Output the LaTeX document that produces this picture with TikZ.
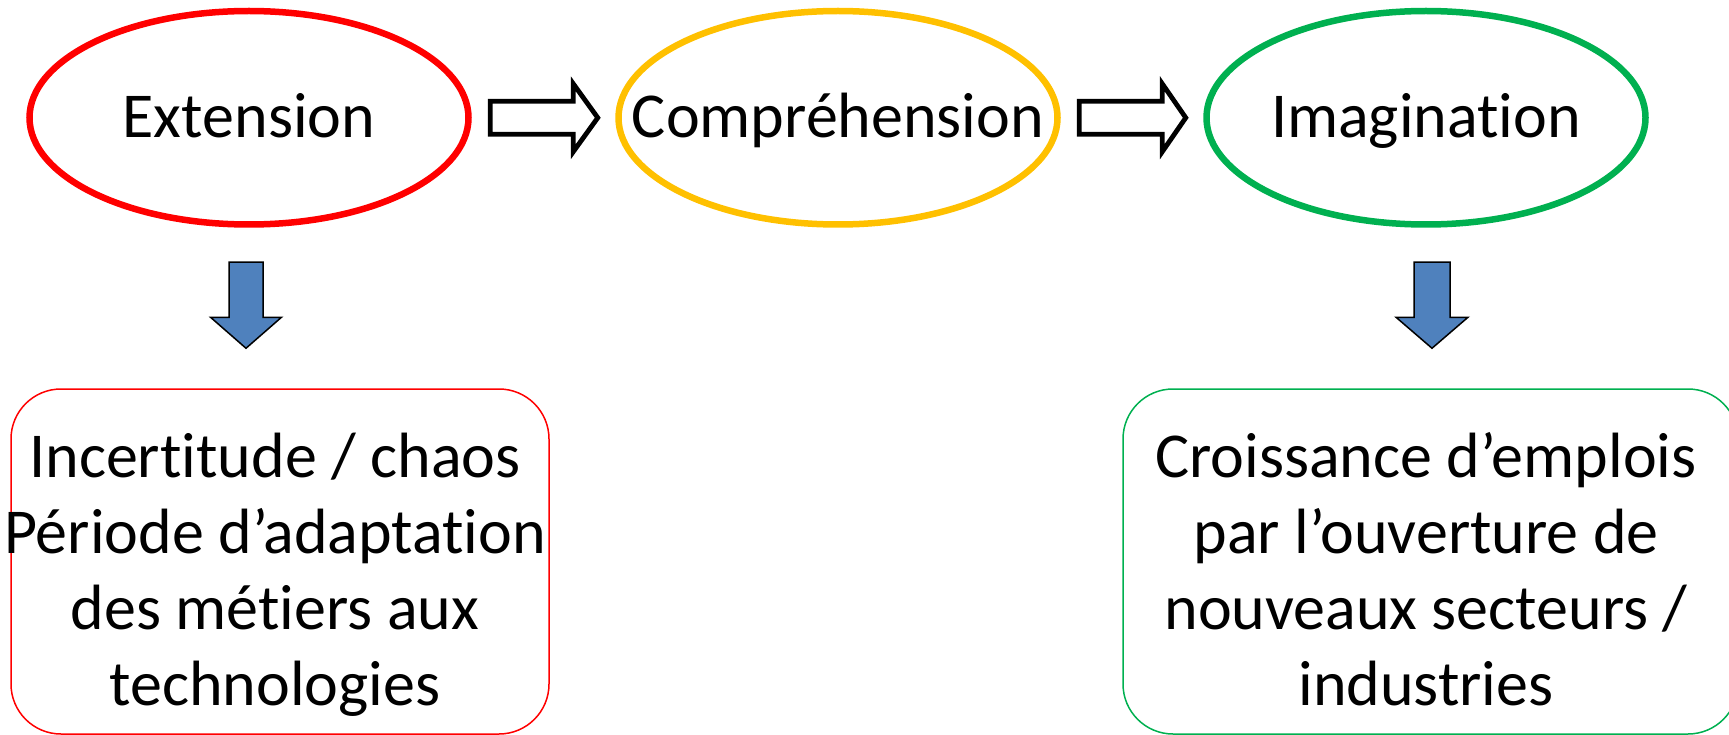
\documentclass[tikz,border=0pt]{standalone}
\usepackage{fontspec}
\setmainfont{Carlito}[Ligatures=NoCommon]
\usetikzlibrary{shapes.geometric,calc}
\definecolor{cRed}{HTML}{FF0000}
\definecolor{cYel}{HTML}{FFC000}
\definecolor{cGrn}{HTML}{00B050}
\definecolor{cBlu}{HTML}{4F81BD}
\begin{document}
\begin{tikzpicture}[x=1pt,y=-1pt,
  oval/.style={ellipse, draw, line width=6.5pt, minimum width=439pt, minimum height=213.5pt, inner sep=0pt},
  ovaltext/.style={font=\fontsize{64}{76}\selectfont, inner sep=0pt, text height=40.5pt, text depth=0pt},
  card/.style={draw, rounded corners=50pt, line width=1.5pt, minimum height=345pt, inner sep=0pt},
  cardtext/.style={font=\fontsize{64}{76}\selectfont, align=center, inner sep=0pt},
  flowarrow/.style={draw=black, fill=white, line width=4.8pt, line join=miter},
  downarrow/.style={draw=black, fill=cBlu, line width=1.5pt, line join=miter}]
\useasboundingbox (0,0) rectangle (1729,735);

% ovals
\node[oval, draw=cRed] (ext) at (249,117.75) {};
\node[ovaltext] (extT) at (ext.center) {Extension};
\node[oval, draw=cYel] (comp) at (838,117.75) {};
\node[ovaltext] (compT) at (comp.center) {Compréhension};
\node[oval, draw=cGrn] (imag) at (1426,117.75) {};
\node[ovaltext] (imagT) at (imag.center) {Imagination};

% cards
\node[card, draw=cRed, minimum width=538pt] (left) at (280,561.5) {};
\node[cardtext] (leftT) at (275,576) {Incertitude / chaos\strut\\Période d’adaptation\strut\\des métiers aux\strut\\technologies\strut};
\node[card, draw=cGrn, minimum width=615pt] (right) at (1430.5,561.5) {};
\node[cardtext] (rightT) at (1426,576) {Croissance d’emplois\strut\\par l’ouverture de\strut\\nouveaux secteurs /\strut\\industries\strut};

% white flow arrows
\coordinate (a1) at ($(ext.east)+(18.5,0)$);
\coordinate (b1) at ($(comp.west)+(-17.5,0)$);
\draw[flowarrow] ($(a1)+(0,-16.5)$) -- ($(a1)+(83,-16.5)$) -- ($(a1)+(83,-34)$) -- (b1)
  -- ($(a1)+(83,34)$) -- ($(a1)+(83,16.5)$) -- ($(a1)+(0,16.5)$) -- cycle;
\coordinate (a2) at ($(comp.east)+(18.5,0)$);
\coordinate (b2) at ($(imag.west)+(-17.5,0)$);
\draw[flowarrow] ($(a2)+(0,-16.5)$) -- ($(a2)+(83,-16.5)$) -- ($(a2)+(83,-34)$) -- (b2)
  -- ($(a2)+(83,34)$) -- ($(a2)+(83,16.5)$) -- ($(a2)+(0,16.5)$) -- cycle;

% blue down arrows
\coordinate (d1) at ($(ext.south)+(-3,34.5)$);
\coordinate (e1) at ($(left.north)+(-34,-40)$);
\draw[downarrow] ($(d1)+(-17,0)$) -- ($(d1)+(17,0)$) -- ($(d1)+(17,55)$) -- ($(d1)+(35.5,55)$)
  -- (e1) -- ($(d1)+(-35.5,55)$) -- ($(d1)+(-17,55)$) -- cycle;
\coordinate (d2) at ($(imag.south)+(6,34.5)$);
\coordinate (e2) at ($(right.north)+(1.5,-40)$);
\draw[downarrow] ($(d2)+(-18,0)$) -- ($(d2)+(18,0)$) -- ($(d2)+(18,55)$) -- ($(d2)+(36,55)$)
  -- (e2) -- ($(d2)+(-36,55)$) -- ($(d2)+(-18,55)$) -- cycle;
\end{tikzpicture}
\end{document}
